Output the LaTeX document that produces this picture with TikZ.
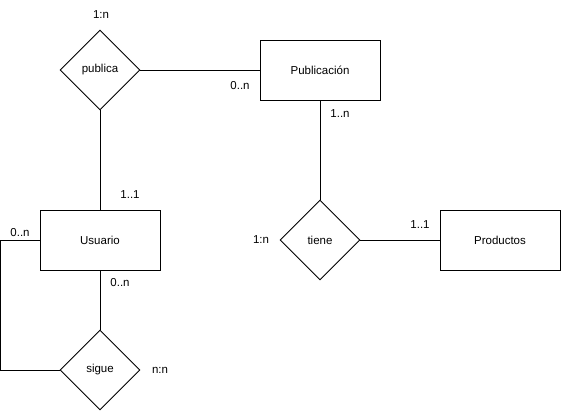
\documentclass[tikz,border=0pt]{standalone}
\usepackage{fontspec}
\setmainfont{Liberation Sans}
\usetikzlibrary{shapes.geometric}
\begin{document}
\begin{tikzpicture}[x=1pt,y=-1pt,
  every node/.style={font=\fontsize{11.5}{13}\selectfont},
  ent/.style={draw,line width=0.9pt,minimum width=120pt,minimum height=60pt,inner sep=0pt},
  rel/.style={draw,line width=0.9pt,diamond,minimum width=80pt,minimum height=80pt,inner sep=0pt,aspect=1},
  lbl/.style={inner sep=0pt},
  conn/.style={line width=0.9pt}]
\useasboundingbox (0,0) rectangle (561,411);
\node[ent] (pub) at (320,70) {Publicación};
\node[rel] (publica) at (100,70) {publica};
\node[ent] (usu) at (100,240) {Usuario};
\node[rel] (tiene) at (320,240) {tiene};
\node[ent] (prod) at (500,240) {Productos};
\node[rel] (sigue) at (100,370) {sigue};
\coordinate (la) at (0.5,240);
\coordinate (lb) at (0.5,370);
\draw[conn] (publica.east) -- (pub.west);
\draw[conn] (publica.south) -- (usu.north);
\draw[conn] (pub.south) -- (tiene.north);
\draw[conn] (tiene.east) -- (prod.west);
\draw[conn] (usu.south) -- (sigue.north);
\draw[conn] (usu.west) -- (la) -- (lb) -- (sigue.west);
\node[lbl] (l1) at (101,15) {1:n};
\node[lbl] (l2) at (240,86) {0..n};
\node[lbl] (l3) at (340,114) {1..n};
\node[lbl] (l4) at (130,195) {1..1};
\node[lbl] (l5) at (20,233) {0..n};
\node[lbl] (l6) at (120,283) {0..n};
\node[lbl] (l7) at (261,240) {1:n};
\node[lbl] (l8) at (420,225) {1..1};
\node[lbl] (l9) at (160,370) {n:n};
\end{tikzpicture}
\end{document}
